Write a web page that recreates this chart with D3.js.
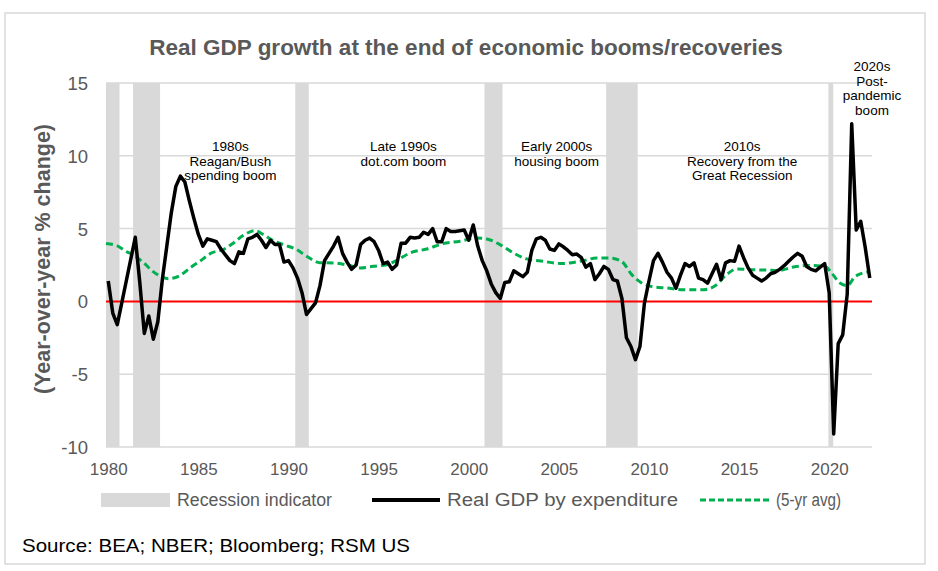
<!DOCTYPE html>
<html>
<head>
<meta charset="utf-8">
<script src="https://cdn.jsdelivr.net/npm/d3@7"></script>
<style>
  html, body { margin: 0; padding: 0; background: #fff; }
  svg { display: block; font-family: "Liberation Sans", Arial, sans-serif; }
</style>
</head>
<body>
<svg id="chart" width="938" height="571"></svg>
<script>
// ---------------- DATA ----------------
const title = "Real GDP growth at the end of economic booms/recoveries";
const yAxisTitle = "(Year-over-year % change)";
const sourceText = "Source: BEA; NBER; Bloomberg; RSM US";
const startYear = 1980; // first quarter 1980Q1, quarterly series
const xTickYears = [1980, 1985, 1990, 1995, 2000, 2005, 2010, 2015, 2020];
const yTicks = [-10, -5, 0, 5, 10, 15];

// Real GDP by expenditure, YoY % change, quarterly 1980Q1 .. 2022Q2
const gdpYoY = [
  1.4, -0.8, -1.6, -0.1,    // 1980
  1.4, 2.9, 4.4, 1.3,       // 1981
  -2.2, -1.0, -2.6, -1.4,   // 1982
  1.5, 3.8, 6.1, 7.9,       // 1983
  8.6, 8.2, 6.9, 5.7,       // 1984
  4.6, 3.8, 4.3, 4.2,       // 1985
  4.1, 3.6, 3.2, 2.8,       // 1986
  2.6, 3.4, 3.3, 4.3,       // 1987
  4.4, 4.6, 4.2, 3.7,       // 1988
  4.2, 3.9, 3.9, 2.7,       // 1989
  2.8, 2.3, 1.6, 0.6,       // 1990
  -0.9, -0.5, -0.1, 1.1,    // 1991
  2.8, 3.3, 3.8, 4.4,       // 1992
  3.3, 2.7, 2.2, 2.5,       // 1993
  3.9, 4.2, 4.35, 4.1,      // 1994
  3.5, 2.6, 2.7, 2.2,       // 1995
  2.5, 4.0, 4.0, 4.4,       // 1996
  4.35, 4.4, 4.75, 4.6,     // 1997
  5.0, 4.1, 4.1, 5.0,       // 1998
  4.8, 4.8, 4.85, 4.9,      // 1999
  4.2, 5.25, 3.8, 2.8,      // 2000
  2.1, 1.2, 0.6, 0.2,       // 2001
  1.3, 1.35, 2.1, 1.9,      // 2002
  1.7, 2.0, 3.5, 4.3,       // 2003
  4.4, 4.2, 3.6, 3.5,       // 2004
  3.95, 3.75, 3.5, 3.2,     // 2005
  3.25, 3.0, 2.35, 2.6,     // 2006
  1.5, 1.9, 2.4, 2.2,       // 2007
  1.5, 1.4, 0.2, -2.5,      // 2008
  -3.1, -4.0, -3.1, -0.1,   // 2009
  1.4, 2.8, 3.3, 2.7,       // 2010
  2.0, 1.6, 0.9, 1.8,       // 2011
  2.6, 2.4, 2.65, 1.6,      // 2012
  1.5, 1.25, 1.9, 2.55,     // 2013
  1.5, 2.65, 2.8, 2.75,     // 2014
  3.8, 3.0, 2.3, 1.8,       // 2015
  1.6, 1.4, 1.6, 1.9,       // 2016
  2.0, 2.2, 2.45, 2.75,     // 2017
  3.05, 3.3, 3.1, 2.4,      // 2018
  2.2, 2.1, 2.35, 2.6,      // 2019
  0.6, -9.1, -2.9, -2.3,    // 2020
  0.5, 12.2, 4.9, 5.5,      // 2021
  3.7, 1.6                  // 2022
];

// 5-yr average (smoothed): decimal year, value
const avgYears = [1980.0, 1980.6, 1981.1, 1981.5, 1982.1, 1982.6, 1983.1, 1983.45, 1984.1, 1984.66,
  1985.2, 1985.86, 1986.5, 1987.06, 1987.6, 1988.27, 1988.73, 1989.28, 1989.84, 1990.58,
  1991.13, 1991.87, 1992.6, 1993.54, 1994.1, 1994.83, 1995.57, 1996.13, 1996.87, 1997.8,
  1998.7, 1999.64, 2000.57, 2001.12, 2001.86, 2002.6, 2003.34, 2004.26, 2005.3, 2006.48,
  2007.22, 2007.96, 2008.61, 2009.17, 2009.72, 2010.37, 2011.1, 2012.03, 2013.14, 2013.8,
  2014.43, 2014.99, 2015.73, 2016.66, 2017.3, 2018.14, 2019.07, 2019.9, 2020.26, 2020.72,
  2021.13, 2021.56, 2022.39];
const avgValues = [3.97, 3.83, 3.44, 3.21, 2.64, 2.06, 1.68, 1.56, 1.77, 2.3,
  2.75, 3.33, 3.56, 4.0, 4.52, 4.86, 4.59, 4.17, 3.9, 3.56,
  3.1, 2.66, 2.64, 2.46, 2.3, 2.41, 2.52, 2.82, 3.33, 3.6,
  3.97, 4.13, 4.36, 4.29, 3.9, 3.33, 2.92, 2.75, 2.6, 2.8,
  2.98, 2.98, 2.75, 1.84, 1.27, 0.99, 0.92, 0.8, 0.8, 1.08,
  1.84, 2.23, 2.18, 2.15, 2.12, 2.36, 2.47, 2.4, 1.95, 1.26,
  1.08, 1.71, 2.05];

// Recessions (NBER), decimal years
const recessionStart = [1980.0, 1981.5, 1990.5, 2001.0, 2007.75, 2020.08];
const recessionEnd   = [1980.75, 1983.0, 1991.25, 2002.0, 2009.5, 2020.35];

// Annotations
const annotations = [
  { year: 1986.9, value: 10.3, lines: ["1980s", "Reagan/Bush", "spending boom"] },
  { year: 1996.5, value: 10.3, lines: ["Late 1990s", "dot.com boom"] },
  { year: 2005.0, value: 10.3, lines: ["Early 2000s", "housing boom"] },
  { year: 2015.3, value: 10.3, lines: ["2010s", "Recovery from the", "Great Recession"] },
  { year: 2022.5, value: 15.8, lines: ["2020s", "Post-", "pandemic", "boom"] }
];

const legendLabels = ["Recession indicator", "Real GDP by expenditure", "(5-yr avg)"];

// ---------------- CHART ----------------
const svg = d3.select("#chart");
const plot = { left: 106, right: 872, top: 83, bottom: 447 };
const grey = "#595959";

const x = d3.scaleLinear().domain([1980, 2022.5]).range([plot.left, plot.right]);
const y = d3.scaleLinear().domain([-10, 15]).range([plot.bottom, plot.top]);

// outer border
svg.append("rect").attr("x", 5).attr("y", 13).attr("width", 920).attr("height", 551)
  .attr("fill", "#fff").attr("stroke", "#d9d9d9").attr("stroke-width", 1.5);

// title
svg.append("text").attr("x", 466).attr("y", 55).attr("text-anchor", "middle")
  .attr("font-size", 22.5).attr("font-weight", "bold").attr("fill", grey).text(title);

// gridlines
svg.append("g").selectAll("line").data(yTicks.filter(d => d !== 0)).join("line")
  .attr("x1", plot.left).attr("x2", plot.right)
  .attr("y1", d => y(d)).attr("y2", d => y(d))
  .attr("stroke", "#d9d9d9").attr("stroke-width", 1.5);

// recession bands
const recessions = recessionStart.map((s, i) => ({ s, e: recessionEnd[i] }));
svg.append("g").selectAll("rect").data(recessions).join("rect")
  .attr("x", d => x(d.s)).attr("width", d => x(d.e) - x(d.s))
  .attr("y", plot.top).attr("height", plot.bottom - plot.top)
  .attr("fill", "#d9d9d9");

// zero line
svg.append("line").attr("x1", plot.left).attr("x2", plot.right)
  .attr("y1", y(0)).attr("y2", y(0)).attr("stroke", "#ff0000").attr("stroke-width", 2);

// y axis
const yAxis = d3.axisLeft(y).tickValues(yTicks).tickSize(0).tickPadding(0).tickFormat(d => String(d));
const gy = svg.append("g").attr("transform", `translate(${plot.left - 18},0)`).call(yAxis);
gy.select(".domain").remove();
gy.selectAll("text").attr("font-size", 18.5).attr("fill", grey)
  .attr("font-family", "'Liberation Sans', Arial, sans-serif").attr("dy", "0.35em");

// x axis
const xAxis = d3.axisBottom(x).tickValues(xTickYears.map(d => d + 0.125)).tickSize(0).tickPadding(0)
  .tickFormat(d => String(Math.round(d - 0.125)));
const gx = svg.append("g").attr("transform", `translate(0,${plot.bottom + 16})`).call(xAxis);
gx.select(".domain").remove();
gx.selectAll("text").attr("font-size", 17).attr("fill", grey)
  .attr("font-family", "'Liberation Sans', Arial, sans-serif");

// y axis title
svg.append("text").attr("transform", `translate(50,${(plot.top + plot.bottom) / 2 - 6}) rotate(-90)`)
  .attr("text-anchor", "middle").attr("font-size", 21.5).attr("font-weight", "bold")
  .attr("fill", grey).text(yAxisTitle);

// 5-yr avg line
const avgData = avgYears.map((t, i) => ({ t, v: avgValues[i] }));
svg.append("path").datum(avgData)
  .attr("d", d3.line().x(d => x(d.t)).y(d => y(d.v)).curve(d3.curveMonotoneX))
  .attr("fill", "none").attr("stroke", "#00b050").attr("stroke-width", 3)
  .attr("stroke-dasharray", "7,4");

// GDP line
const gdpData = gdpYoY.map((v, i) => ({ t: startYear + (i + 0.5) / 4, v }));
svg.append("path").datum(gdpData)
  .attr("d", d3.line().x(d => x(d.t)).y(d => y(d.v)))
  .attr("fill", "none").attr("stroke", "#000").attr("stroke-width", 3.5)
  .attr("stroke-linejoin", "round");

// annotations
annotations.forEach(a => {
  const t = svg.append("text").attr("text-anchor", "middle").attr("font-size", 13.5).attr("fill", "#000");
  a.lines.forEach((l, i) => {
    t.append("tspan").attr("x", x(a.year)).attr("y", y(a.value) + i * 14.5).text(l);
  });
});

// legend
const ly = 500;
svg.append("rect").attr("x", 101).attr("y", ly - 7).attr("width", 69).attr("height", 14).attr("fill", "#d9d9d9");
svg.append("line").attr("x1", 372).attr("x2", 440).attr("y1", ly).attr("y2", ly)
  .attr("stroke", "#000").attr("stroke-width", 4);
svg.append("line").attr("x1", 700).attr("x2", 770).attr("y1", ly).attr("y2", ly)
  .attr("stroke", "#00b050").attr("stroke-width", 3).attr("stroke-dasharray", "6,3");
const legendX = [177, 447, 776];
const legendW = [155, 231, 65];
legendLabels.forEach((l, i) => {
  svg.append("text").attr("x", legendX[i]).attr("y", ly + 6).attr("font-size", 18)
    .attr("fill", grey).attr("textLength", legendW[i]).attr("lengthAdjust", "spacingAndGlyphs").text(l);
});

// source
svg.append("text").attr("x", 22).attr("y", 552).attr("font-size", 19).attr("fill", "#000")
  .attr("textLength", 388).attr("lengthAdjust", "spacingAndGlyphs").text(sourceText);
</script>
</body>
</html>
